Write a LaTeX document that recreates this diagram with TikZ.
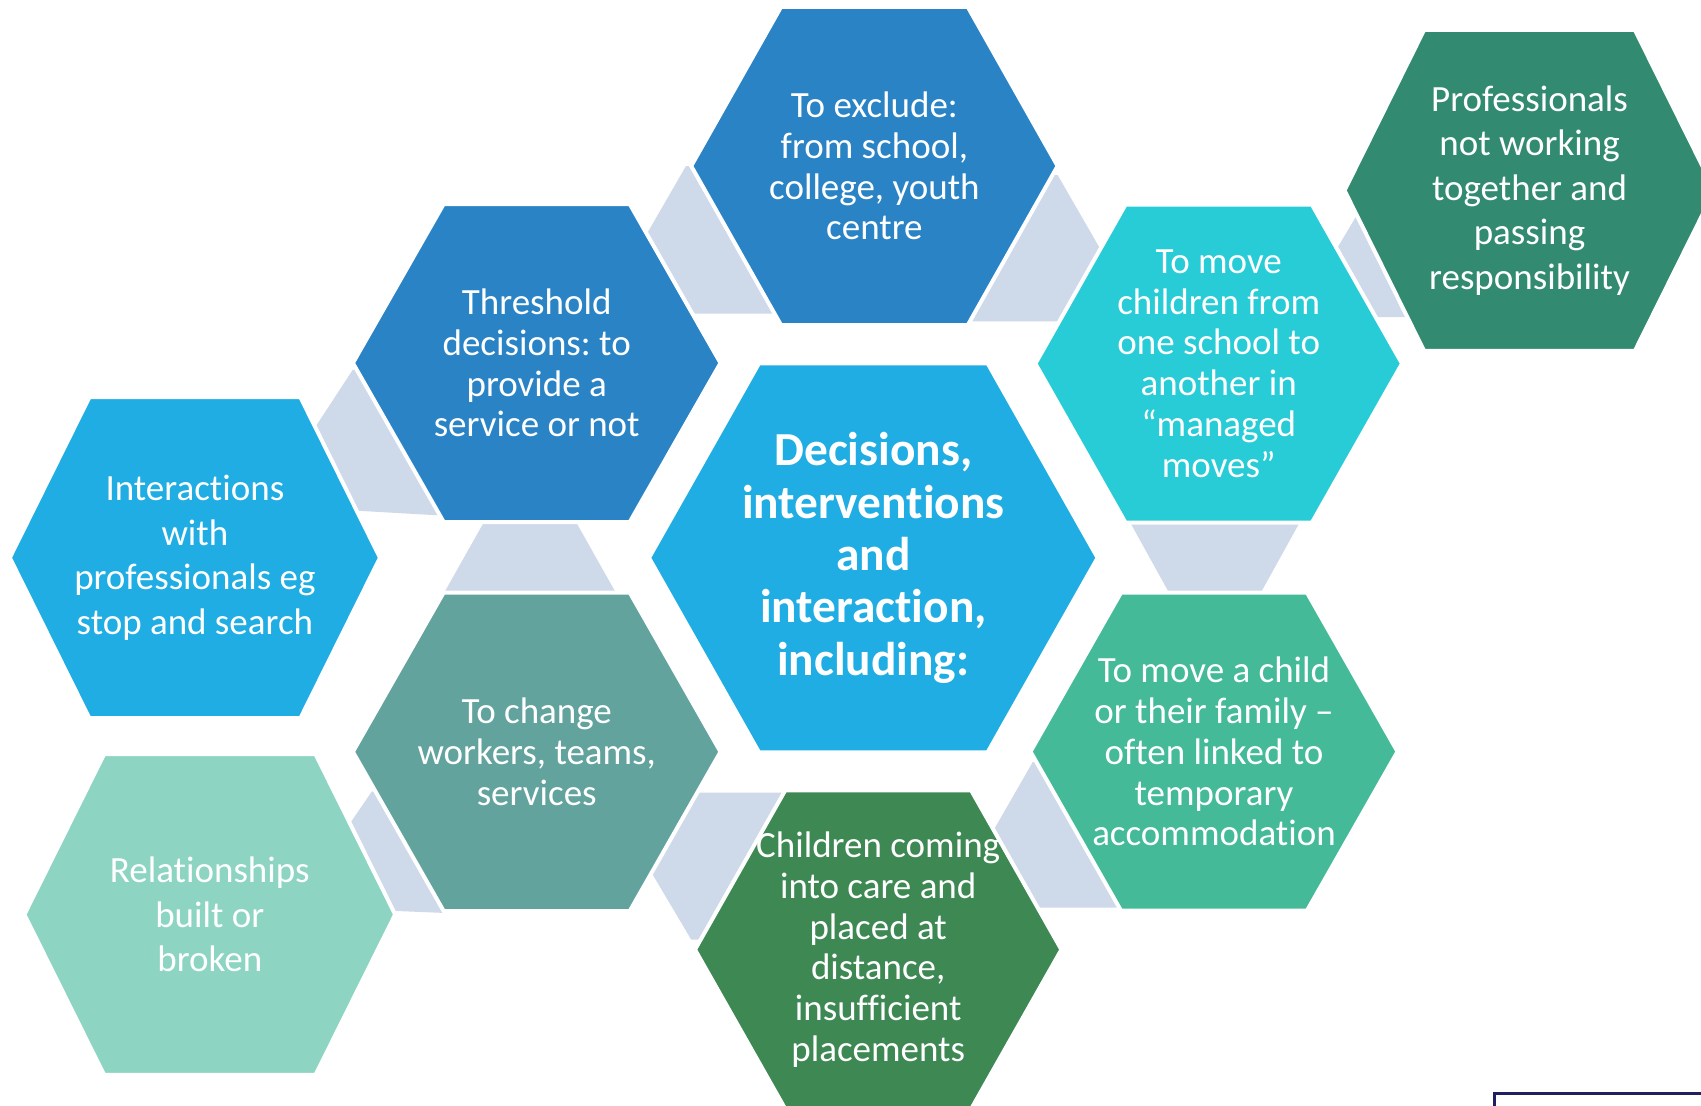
\documentclass[tikz,border=0pt]{standalone}
\usepackage{fontspec}
\setmainfont{Carlito}[Ligatures=NoCommon]
\usepackage{xcolor}
\frenchspacing

\definecolor{deepblue}{HTML}{2983C5}
\definecolor{skyblue}{HTML}{1FADE3}
\definecolor{cyanish}{HTML}{28CCD7}
\definecolor{seagreen}{HTML}{328B70}
\definecolor{greyteal}{HTML}{63A39D}
\definecolor{paleminst}{HTML}{8DD5C2}
\definecolor{forestgreen}{HTML}{3D8853}
\definecolor{mintgreen}{HTML}{44BA98}
\definecolor{linkgrey}{HTML}{CED9E9}
\definecolor{navyline}{HTML}{221E62}

% hexagon: centre, half width, half top edge, half height, colour
\newcommand{\hexcell}[5]{%
  \filldraw[fill=#5, draw=white, line width=2pt]
    (#1) ++(-#2,0) -- ++({#2-#3},{-#4}) -- ++({2*#3},0)
    -- ++({#2-#3},{#4}) -- ++({#3-#2},{#4}) -- ++({-2*#3},0) -- cycle;}

\begin{document}
\begin{tikzpicture}[x=0.5pt,y=-0.5pt,
    hextext/.style={text=white,align=center,font=\fontsize{18.5}{20.35}\selectfont},
    widetext/.style={text=white,align=center,font=\fontsize{18.5}{22.3}\selectfont},
    maintext/.style={text=white,align=center,font=\fontsize{23.7}{26.15}\selectfont\bfseries},
    gap/.style={fill=linkgrey}]
  \useasboundingbox (0,0) rectangle (1701,1105);
  \clip (0,0) rectangle (1701,1105);

  % grey links behind the cells
  \fill[gap] (686,166) -- (600.8,313.6) -- (790,313.6) -- (700,166) -- cycle;
  \fill[gap] (1043,175) -- (958,321.4) -- (1142,321.4) -- (1057.6,175) -- cycle;
  \fill[gap] (352.9,369.6) -- (264,505.4) -- (445,515.7) -- (360,369.6) -- cycle;
  \fill[gap] (484,522) -- (576,522) -- (615.7,592.5) -- (444.3,592.5) -- cycle;
  \fill[gap] (371.9,791.4) -- (292.8,906.8) -- (444,912.9) -- (378,791.4) -- cycle;
  \fill[gap] (604,792.5) -- (800,792.5) -- (720,939.6) -- (691.2,939.6) -- cycle;
  \fill[gap] (1032.7,762.1) -- (949.1,907.5) -- (1125,907.5) -- (1040,762.1) -- cycle;
  \fill[gap] (1129.9,522) -- (1299.9,522) -- (1260.9,592.5) -- (1168.9,592.5) -- cycle;
  \fill[gap] (1366,200) -- (1295.8,317.1) -- (1430,317.1) -- (1380,200) -- cycle;

  % cells
  \hexcell{874.4,166}{183.2}{93.3}{159.2}{deepblue}
  \hexcell{536.7,363}{183.8}{93}{159}{deepblue}
  \hexcell{873.3,557.8}{224.3}{114.3}{194.5}{skyblue}
  \hexcell{1218.7,363.6}{183.3}{93.2}{159}{cyanish}
  \hexcell{1529.5,190.4}{185}{105.4}{160.5}{seagreen}
  \hexcell{194.9,557.7}{185.1}{105.5}{160.5}{skyblue}
  \hexcell{536.7,751.8}{183.8}{93}{159.3}{greyteal}
  \hexcell{209.8,914.5}{185.4}{105.7}{160.4}{paleminst}
  \hexcell{878.2,949.6}{183.2}{93}{159.2}{forestgreen}
  \hexcell{1214,751.6}{183.5}{93}{159}{mintgreen}

  % texts
  \node (exclude) at (874.4,166) [hextext] {To exclude:\\from school,\\college, youth\\centre};
  \node (threshold) at (536.7,363) [hextext] {Threshold\\decisions: to\\provide a\\service or not};
  \node (decisions) at (873.3,557.8) [maintext] {Decisions,\\interventions\\and\\interaction,\\including:};
  \node (schoolmove) at (1218.7,363.6) [hextext] {To move\\children from\\one school to\\another in\\“managed\\moves”};
  \node (professionals) at (1529.5,190.4) [widetext] {Professionals\\not working\\together and\\passing\\responsibility};
  \node (interactions) at (194.9,557.7) [widetext] {Interactions\\with\\professionals eg\\stop and search};
  \node (change) at (536.7,751.8) [hextext] {To change\\workers, teams,\\services};
  \node (relationships) at (209.8,914.5) [widetext] {Relationships\\built or\\broken};
  \node (care) at (878.2,949.6) [hextext] {Children coming\\into care and\\placed at\\distance,\\insufficient\\placements};
  \node (familymove) at (1214,751.6) [hextext] {To move a child\\or their family –\\often linked to\\temporary\\accommodation};

  % corner box
  \draw[navyline, line width=1.5pt, fill=white] (1494,1093) rectangle (1720,1130);
\end{tikzpicture}
\end{document}
